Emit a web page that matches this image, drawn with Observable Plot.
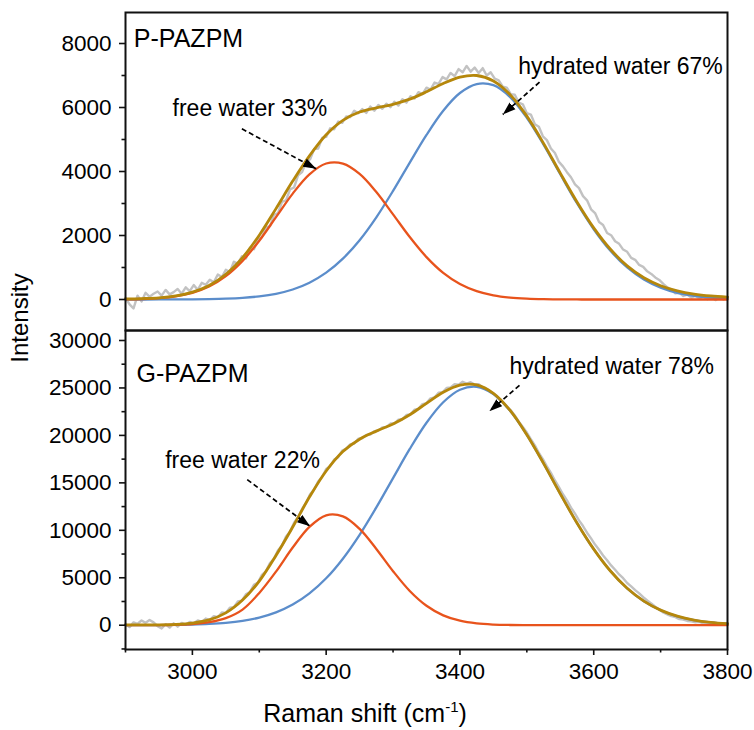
<!DOCTYPE html>
<html><head><meta charset="utf-8">
<script src="https://cdn.jsdelivr.net/npm/d3@7"></script>
<script src="https://cdn.jsdelivr.net/npm/@observablehq/plot@0.6"></script>
<style>
body{margin:0;background:#fff;}
#chart{position:relative;width:754px;height:730px;font-family:"Liberation Sans",Arial,sans-serif;}
#chart svg{position:absolute;left:0;}
</style></head><body><div id="chart"></div>
<script>
// ---- fitted curves (Raman shift grid, cm-1) ----
const shiftFit = [2900,2925,2950,2975,3000,3025,3050,3075,3100,3125,3150,3175,3200,3225,3250,3275,3300,3325,3350,3375,3400,3425,3450,3475,3500,3525,3550,3575,3600,3625,3650,3675,3700,3725,3750,3775,3800];
const pFree = [6,16,42,96,206,404,729,1206,1837,2572,3309,3913,4250,4247,3926,3360,2661,1952,1325,833,484,261,130,60,26,10,4,1,0,0,0,0,0,0,0,0,0];
const pHydrated = [0,0,1,2,5,12,25,50,97,179,313,525,838,1277,1853,2568,3394,4279,5144,5900,6454,6734,6697,6327,5678,4838,3914,3007,2196,1521,1001,625,372,209,112,57,28];
const pFit = [20,30,52,110,229,437,790,1310,2010,2840,3700,4490,5150,5600,5860,5990,6100,6260,6490,6750,6950,7000,6830,6400,5730,4880,3950,3050,2240,1570,1050,680,430,270,170,110,75];
const gFree = [1,4,14,49,120,320,750,1650,3400,5650,8188,10361,11585,11468,10150,8037,5695,3610,2050,1040,473,192,70,23,7,2,0,0,0,0,0,0,0,0,0,0,0];
const gHydrated = [3,7,15,33,67,133,253,461,806,1353,2173,3353,4944,7011,9526,12412,15505,18574,21332,23496,24815,25128,24363,22603,20063,17042,13848,10767,8014,5705,3886,2533,1580,942,538,294,154];
const gFit = [30,30,40,90,230,560,1300,2650,4650,7350,10350,13500,16250,18300,19600,20450,21200,22180,23380,24540,25290,25320,24430,22630,20070,17050,13850,10770,8020,5710,3890,2540,1590,950,545,300,160];

// ---- measured spectra ----
const shiftRaw = [2900,2906,2912,2918,2924,2930,2936,2942,2948,2954,2960,2966,2972,2978,2984,2990,2996,3002,3008,3014,3020,3026,3032,3038,3044,3050,3056,3062,3068,3074,3080,3086,3092,3098,3104,3110,3116,3122,3128,3134,3140,3146,3152,3158,3164,3170,3176,3182,3188,3194,3200,3206,3212,3218,3224,3230,3236,3242,3248,3254,3260,3266,3272,3278,3284,3290,3296,3302,3308,3314,3320,3326,3332,3338,3344,3350,3356,3362,3368,3374,3380,3386,3392,3398,3404,3410,3416,3422,3428,3434,3440,3446,3452,3458,3464,3470,3476,3482,3488,3494,3500,3506,3512,3518,3524,3530,3536,3542,3548,3554,3560,3566,3572,3578,3584,3590,3596,3602,3608,3614,3620,3626,3632,3638,3644,3650,3656,3662,3668,3674,3680,3686,3692,3698,3704,3710,3716,3722,3728,3734,3740,3746,3752,3758,3764,3770,3776,3782,3788,3794,3800];
const pRaw = [50,-150,-280,120,-60,210,90,180,250,120,300,160,230,330,180,380,260,450,300,520,460,620,540,780,700,930,860,1180,1120,1350,1280,1620,1570,1880,1950,2250,2290,2640,2700,3050,3100,3440,3500,3880,3980,4300,4380,4700,4720,5050,5080,5350,5320,5560,5520,5720,5700,5900,5820,5950,5830,6030,5900,6080,5960,6120,6010,6180,6060,6260,6150,6350,6280,6480,6420,6620,6560,6780,6740,6950,6880,7080,6980,7200,7100,7300,7120,7250,7080,7230,7000,7100,6900,6850,6650,6620,6420,6400,6150,6100,5820,5780,5480,5400,5100,4980,4720,4580,4300,4160,3980,3820,3600,3480,3230,3100,2820,2700,2420,2330,2080,2010,1820,1740,1560,1490,1300,1240,1080,1020,880,800,690,610,490,380,310,190,210,110,150,60,120,30,90,10,70,-20,60,0,80,40];
const gRaw = [100,-200,300,150,500,250,550,300,-100,-350,100,-250,200,-150,250,50,350,200,500,350,700,550,950,850,1350,1300,1850,1900,2500,2600,3250,3500,4250,4500,5300,5700,6550,7000,7900,8400,9350,9850,10800,11400,12250,12900,13800,14300,15150,15650,16450,16750,17450,17700,18400,18600,19050,19150,19650,19700,20050,20100,20450,20500,20850,20880,21250,21250,21650,21700,22150,22200,22700,22800,23300,23400,23900,24000,24500,24550,25000,25050,25400,25350,25650,25450,25600,25350,25400,25050,24900,24600,24300,23800,23500,23000,22650,22100,21450,20900,20300,19600,18950,18150,17500,16750,16050,15250,14550,13800,13150,12400,11750,11050,10450,9750,9150,8500,7950,7350,6850,6300,5850,5350,4950,4450,4100,3700,3350,2950,2600,2300,1950,1650,1350,1150,950,850,650,600,450,400,300,350,200,250,100,150,50,120,100];

// ---- ticks ----
const xTicks = [3000,3200,3400,3600,3800];
const xMinor = [2900,3100,3300,3500,3700];
const pTicks = [0,2000,4000,6000,8000];
const pMinor = [1000,3000,5000,7000];
const gTicks = [0,5000,10000,15000,20000,25000,30000];
const gMinor = [-2500,2500,7500,12500,17500,22500,27500];

// ---- annotations ----
const pLabel = ["P-PAZPM"], pLabelX = [2912.5], pLabelY = [7884];
const gLabel = ["G-PAZPM"], gLabelX = [2916.5], gLabelY = [25610];
const pNotes = ["free water 33%","hydrated water 67%"], pNoteX = [3086,3640], pNoteY = [5750,7053];
const gNotes = ["free water 22%","hydrated water 78%"], gNoteX = [3075,3627], gNoteY = [16600,26494];
const pArrX1 = [3074,3519], pArrY1 = [5334,6791], pArrX2 = [3185,3464], pArrY2 = [4084,5781];
const gArrX1 = [3082,3489], gArrY1 = [15337,25263], gArrX2 = [3176,3444], gArrY2 = [10421,22557];

const FONT = "'Liberation Sans', Arial, sans-serif";
const C = {raw:"#c2c2c2", free:"#e8531c", hyd:"#5b8dcb", fit:"#b5870b", ink:"#111"};

function arrowHead(color) {
  const m = d3.create("svg:marker")
    .attr("viewBox", "-13 -5 13 10")
    .attr("markerWidth", 13).attr("markerHeight", 10)
    .attr("markerUnits", "userSpaceOnUse")
    .attr("orient", "auto").attr("refX", 0).attr("refY", 0);
  m.append("path").attr("d", "M-13,-4.5L0,0L-13,4.5Z").attr("fill", "#000").attr("stroke", "none");
  return m.node();
}

function panel(o) {
  const marks = [
    Plot.line(o.raw, {x: shiftRaw, y: o.raw, stroke: C.raw, strokeWidth: 2.4}),
    Plot.line(o.hyd, {x: shiftFit, y: o.hyd, stroke: C.hyd, strokeWidth: 2.3, curve: "catmull-rom"}),
    Plot.line(o.free, {x: shiftFit, y: o.free, stroke: C.free, strokeWidth: 2.3, curve: "catmull-rom"}),
    Plot.line(o.fit, {x: shiftFit, y: o.fit, stroke: C.fit, strokeWidth: 2.8, curve: "catmull-rom"}),
    Plot.link(o.ax1, {x1: o.ax1, y1: o.ay1, x2: o.ax2, y2: o.ay2, stroke: "#000", strokeWidth: 1.7, strokeDasharray: "5,3", markerEnd: arrowHead}),
    Plot.text(o.label, {x: o.lx, y: o.ly, text: d => d, textAnchor: "start", lineAnchor: "bottom", fontSize: 25, fill: "#000"}),
    Plot.text(o.notes, {x: o.nx, y: o.ny, text: d => d, textAnchor: "middle", lineAnchor: "bottom", fontSize: 23, fill: "#000"}),
    Plot.axisY(o.ticks, {tickSize: 6, tickPadding: 8, fontSize: 22.5, label: null, tickFormat: "d", strokeWidth: 1.6, stroke: C.ink, fill: "#000"}),
    Plot.axisY(o.minor, {tickSize: 3.5, tickFormat: () => "", label: null, strokeWidth: 1.6, stroke: C.ink}),
    Plot.frame({stroke: C.ink, strokeWidth: 2})
  ];
  if (o.xaxis) {
    marks.push(Plot.axisX(xTicks, {tickSize: 6, tickPadding: 8, fontSize: 22.5, label: null, tickFormat: "d", strokeWidth: 1.6, stroke: C.ink, fill: "#000"}));
    marks.push(Plot.axisX(xMinor, {tickSize: 3.5, tickFormat: () => "", label: null, strokeWidth: 1.6, stroke: C.ink}));
  }
  return Plot.plot({
    width: 754, height: o.height,
    marginTop: o.mt, marginBottom: o.mb, marginLeft: 125, marginRight: 27,
    x: o.xaxis ? {domain: [2900, 3800]} : {domain: [2900, 3800], axis: null},
    y: {domain: o.domain},
    style: {fontFamily: FONT, fontSize: "22px", color: "#000", background: "transparent", overflow: "visible"},
    marks
  });
}

const topPanel = panel({raw: pRaw, hyd: pHydrated, free: pFree, fit: pFit,
  ax1: pArrX1, ay1: pArrY1, ax2: pArrX2, ay2: pArrY2,
  label: pLabel, lx: pLabelX, ly: pLabelY, notes: pNotes, nx: pNoteX, ny: pNoteY,
  ticks: pTicks, minor: pMinor, domain: [-969, 8969], height: 331, mt: 12, mb: 1, xaxis: false});
const bottomPanel = panel({raw: gRaw, hyd: gHydrated, free: gFree, fit: gFit,
  ax1: gArrX1, ay1: gArrY1, ax2: gArrX2, ay2: gArrY2,
  label: gLabel, lx: gLabelX, ly: gLabelY, notes: gNotes, nx: gNoteX, ny: gNoteY,
  ticks: gTicks, minor: gMinor, domain: [-2558, 31053], height: 401, mt: 1, mb: 81, xaxis: true});

const chart = document.getElementById("chart");
topPanel.style.top = "0px";
bottomPanel.style.top = "329px";
chart.appendChild(topPanel);
chart.appendChild(bottomPanel);

const ov = d3.select(chart).append("svg")
  .attr("width", 754).attr("height", 730)
  .style("top", "0px").style("pointer-events", "none")
  .attr("font-family", FONT).attr("fill", "#000");
ov.append("text").attr("transform", "translate(28,318) rotate(-90)")
  .attr("text-anchor", "middle").attr("font-size", 24).text("Intensity");
const xt = ov.append("text").attr("x", 365).attr("y", 722)
  .attr("text-anchor", "middle").attr("font-size", 25);
xt.append("tspan").text("Raman shift (cm");
xt.append("tspan").attr("dy", -10).attr("font-size", 15).text("-1");
xt.append("tspan").attr("dy", 10).text(")");
</script></body></html>
